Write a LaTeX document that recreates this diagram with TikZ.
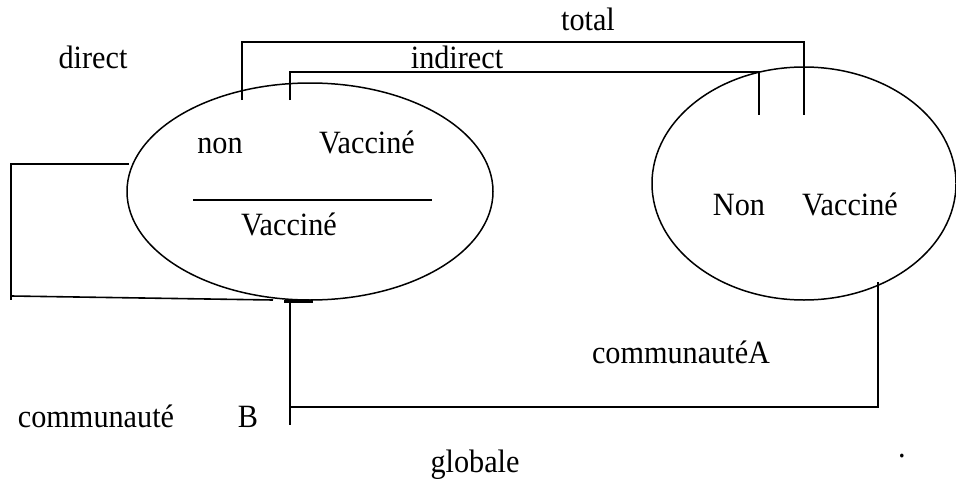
\documentclass[tikz,border=0pt]{standalone}
\usepackage{fontspec}
\setmainfont{Liberation Serif}[FakeStretch=0.93]
\usetikzlibrary{shapes.geometric}
\begin{document}
\begin{tikzpicture}[x=1pt,y=-1pt,
  lbl/.style={inner sep=0pt,anchor=base,font=\fontsize{32.5}{38}\selectfont},
  ring/.style={draw,ellipse,line width=1.5pt,inner sep=0pt},
  ln/.style={line width=1.6pt}]
\useasboundingbox (0,0) rectangle (956,479);
% ellipses
\node[ring,minimum width=366pt,minimum height=217pt] (L) at (310,191.5) {};
\node[ring,minimum width=304pt,minimum height=233pt] (R) at (804,183.5) {};
% labels
\node[lbl] (total) at (588,30) {total};
\node[lbl] (direct) at (93,68) {direct};
\node[lbl] (indirect) at (457,68) {indirect};
\node[lbl] (non) at (220,153) {non};
\node[lbl] (vacc1) at (367,153) {Vacciné};
\node[lbl] (vacc2) at (289,235) {Vacciné};
\node[lbl] (Non) at (739,215) {Non};
\node[lbl] (vacc3) at (850,215) {Vacciné};
\node[lbl] (commA) at (681,363) {communautéA};
\node[lbl] (commB) at (96,427) {communauté};
\node[lbl] (B) at (248,427) {B};
\node[lbl] (glob) at (475,472) {globale};
\node[lbl] (dot) at (902,457) {.};
% coordinates
\coordinate (t1) at (242,100);
\coordinate (t2) at (804,115);
\coordinate (i1) at (290,100);
\coordinate (i2) at (759,115);
\coordinate (f1) at (193,200);
\coordinate (f2) at (432,200);
\coordinate (b1) at (129,164);
\coordinate (b2) at (273,300);
\coordinate (m1) at (284,301);
\coordinate (m2) at (313,301);
\coordinate (g1) at (290,301);
\coordinate (g2) at (290,425);
\coordinate (g3) at (878,282);
% connectors
\draw[ln] (t1) |- (242,42) -| (t2);
\draw[ln] (i1) |- (290,72) -| (i2);
\draw[ln] (f1) -- (f2);
\draw[ln] (b1) -- (11,164) -- (11,300);
\draw[ln] (11,296) -- (b2);
\draw[line width=3pt] (m1) -- (m2);
\draw[ln] (g1) -- (g2);
\draw[ln] (290,407) -| (g3);
\end{tikzpicture}
\end{document}
